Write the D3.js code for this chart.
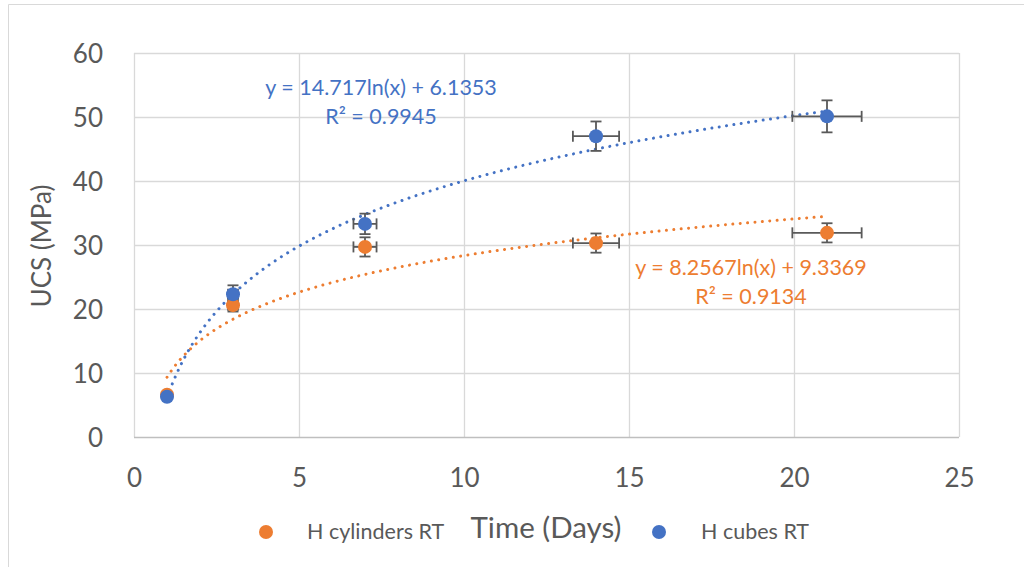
<!DOCTYPE html>
<html>
<head>
<meta charset="utf-8">
<script src="https://cdn.jsdelivr.net/npm/d3@7"></script>
<style>
  html, body { margin: 0; padding: 0; background: #fff; }
  svg { display: block; }
  text { font-family: Lato, "Open Sans", sans-serif; }
</style>
</head>
<body>
<svg id="chart" width="1024" height="567"></svg>
<script>
// Curing time (days) and mean UCS for the two specimen shapes
const days = [1, 3, 7, 14, 21];
const cylinders = [6.6, 20.6, 29.7, 30.3, 31.9];
const cubes = [6.3, 22.3, 33.3, 47.0, 50.1];

// Error bar half-widths
const cylindersYErr = [0.3, 1.0, 1.5, 1.5, 1.5];
const cubesYErr = [0.3, 1.4, 1.6, 2.3, 2.5];
const daysErr = [0.05, 0.15, 0.35, 0.7, 1.05];

// Logarithmic trend coefficients: y = a ln(x) + b
const cylindersFit = { a: 8.2567, b: 9.3369, r2: "0.9134" };
const cubesFit = { a: 14.717, b: 6.1353, r2: "0.9945" };

const xTicks = [0, 5, 10, 15, 20, 25];
const yTicks = [0, 10, 20, 30, 40, 50, 60];

const ORANGE = "#ed7d31";
const BLUE = "#4472c4";
const GRID = "#d9d9d9";
const TEXT = "#595959";
const BAR = "#595959";

const svg = d3.select("#chart");

// Outer chart frame
svg.append("path")
  .attr("d", "M8.5,567 L8.5,4.5 L1024,4.5")
  .attr("fill", "none").attr("stroke", GRID).attr("stroke-width", 1);

const x = d3.scaleLinear().domain([0, 25]).range([134, 959]);
const y = d3.scaleLinear().domain([0, 60]).range([437, 53]);

// Gridlines
const grid = svg.append("g");
grid.selectAll("line.v").data(xTicks).join("line")
  .attr("x1", d => Math.round(x(d)) + 0.5).attr("x2", d => Math.round(x(d)) + 0.5)
  .attr("y1", y(60)).attr("y2", y(0))
  .attr("stroke", GRID).attr("stroke-width", 1.3);
grid.selectAll("line.h").data(yTicks).join("line")
  .attr("x1", x(0)).attr("x2", x(25))
  .attr("y1", d => Math.round(y(d)) + 0.5).attr("y2", d => Math.round(y(d)) + 0.5)
  .attr("stroke", d => d === 0 ? "#bfbfbf" : GRID).attr("stroke-width", 1.3);

// Axes (labels only)
const xAxis = d3.axisBottom(x).tickValues(xTicks).tickSize(0).tickPadding(0);
const gx = svg.append("g").attr("transform", `translate(0,${y(0)})`).call(xAxis);
gx.select(".domain").remove();
gx.selectAll("text").attr("dy", null).attr("y", 50)
  .attr("font-size", 26).attr("fill", TEXT).attr("font-family", "Lato, sans-serif");

const yAxis = d3.axisLeft(y).tickValues(yTicks).tickSize(0).tickPadding(0);
const gy = svg.append("g").attr("transform", `translate(103,0)`).call(yAxis);
gy.select(".domain").remove();
gy.selectAll("text").attr("x", 0).attr("dy", "0.36em")
  .attr("font-size", 26).attr("fill", TEXT).attr("font-family", "Lato, sans-serif");

// Axis titles
svg.append("text")
  .attr("transform", `translate(51,246) rotate(-90)`)
  .attr("text-anchor", "middle")
  .attr("font-size", 26).attr("fill", TEXT)
  .text("UCS (MPa)");
svg.append("text")
  .attr("x", 546).attr("y", 538)
  .attr("text-anchor", "middle")
  .attr("font-size", 29.5).attr("fill", TEXT)
  .text("Time (Days)");

// Trendlines
const trendDays = d3.range(1, 21.001, 0.1);
function trend(fit) {
  return d3.line()
    .x(d => x(d))
    .y(d => y(fit.a * Math.log(d) + fit.b))(trendDays);
}
const series = [
  { name: "H cylinders RT", values: cylinders, yErr: cylindersYErr, color: ORANGE, fit: cylindersFit },
  { name: "H cubes RT", values: cubes, yErr: cubesYErr, color: BLUE, fit: cubesFit }
];

series.forEach(s => {
  svg.append("path")
    .attr("d", trend(s.fit))
    .attr("fill", "none")
    .attr("stroke", s.color)
    .attr("stroke-width", 3)
    .attr("stroke-linecap", "round")
    .attr("stroke-dasharray", "0.01 7.4");
});

// Error bars
const capHalf = 5.5;
series.forEach(s => {
  const g = svg.append("g").attr("stroke", BAR).attr("stroke-width", 1.8).attr("fill", "none");
  days.forEach((d, i) => {
    const cx = x(d), cy = y(s.values[i]);
    const y1 = y(s.values[i] + s.yErr[i]), y2 = y(s.values[i] - s.yErr[i]);
    const x1 = x(d - daysErr[i]), x2 = x(d + daysErr[i]);
    g.append("line").attr("x1", cx).attr("x2", cx).attr("y1", y1).attr("y2", y2);
    g.append("line").attr("x1", cx - capHalf).attr("x2", cx + capHalf).attr("y1", y1).attr("y2", y1);
    g.append("line").attr("x1", cx - capHalf).attr("x2", cx + capHalf).attr("y1", y2).attr("y2", y2);
    g.append("line").attr("x1", x1).attr("x2", x2).attr("y1", cy).attr("y2", cy);
    g.append("line").attr("x1", x1).attr("x2", x1).attr("y1", cy - capHalf).attr("y2", cy + capHalf);
    g.append("line").attr("x1", x2).attr("x2", x2).attr("y1", cy - capHalf).attr("y2", cy + capHalf);
  });
});

// Markers
series.forEach(s => {
  svg.append("g").selectAll("circle").data(days).join("circle")
    .attr("cx", d => x(d))
    .attr("cy", (d, i) => y(s.values[i]))
    .attr("r", 7)
    .attr("fill", s.color);
});

// Trend equations
function eqLabel(fit, cx, cy, color) {
  const t = svg.append("text").attr("text-anchor", "middle").attr("fill", color).attr("font-size", 21.5);
  t.append("tspan").attr("x", cx).attr("y", cy).text(`y = ${fit.a}ln(x) + ${fit.b}`);
  t.append("tspan").attr("x", cx).attr("y", cy + 29).text(`R² = ${fit.r2}`);
}
eqLabel(cubesFit, 381, 95, BLUE);
eqLabel(cylindersFit, 751, 275, ORANGE);

// Legend
const legend = [
  { label: series[0].name, color: ORANGE, cx: 266, tx: 307 },
  { label: series[1].name, color: BLUE, cx: 659, tx: 701 }
];
legend.forEach(l => {
  svg.append("circle").attr("cx", l.cx).attr("cy", 532).attr("r", 7).attr("fill", l.color);
  svg.append("text").attr("x", l.tx).attr("y", 539)
    .attr("font-size", 21.5).attr("fill", TEXT).text(l.label);
});
</script>
</body>
</html>
